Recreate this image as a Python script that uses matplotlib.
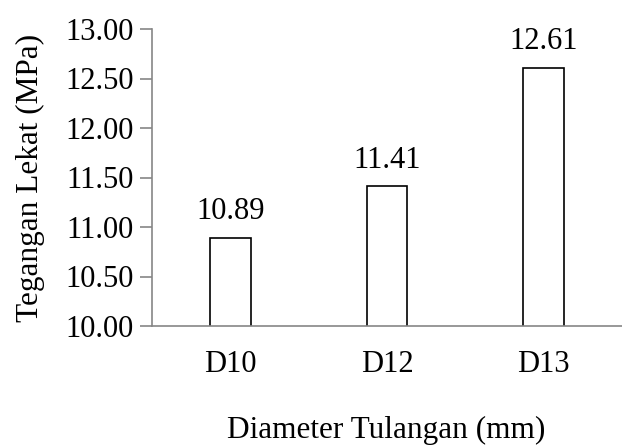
import matplotlib.pyplot as plt

categories = ["D10", "D12", "D13"]
values = [10.89, 11.41, 12.61]
yticks = [10.0, 10.5, 11.0, 11.5, 12.0, 12.5, 13.0]

plt.rcParams['font.family'] = ['Liberation Serif', 'DejaVu Serif']
plt.rcParams['font.size'] = 22

fig = plt.figure(figsize=(6.22, 4.48), dpi=100)
ax = fig.add_axes([152/622, 1 - 326/448, (622 - 152)/622, (326 - 29)/448])

x = range(len(categories))
ax.bar(x, values, width=0.26, bottom=0, color='white', edgecolor='black', linewidth=1.2)
for i, v in enumerate(values):
	ax.text(i, v + 0.12, "%.2f" % v, ha='center', va='bottom', fontsize=22)

ax.set_xlim(-0.5, len(categories) - 0.5)
ax.set_ylim(10.0, 13.0)
ax.set_yticks(yticks)
ax.set_yticklabels(["%.2f" % t for t in yticks])
ax.set_xticks(list(x))
ax.set_xticklabels(categories)

for s in ['top', 'right']:
	ax.spines[s].set_visible(False)
for s in ['left', 'bottom']:
	ax.spines[s].set_color('#868686')
	ax.spines[s].set_linewidth(1.2)
ax.tick_params(axis='y', direction='out', length=9, width=1.2, color='#868686', pad=4)
ax.tick_params(axis='x', length=0, pad=17)

fig.text(30/622, 1 - 178/448, "Tegangan Lekat (MPa)", ha='center', va='center', rotation=90, fontsize=22.5)
fig.text(386/622, 1 - 430/448, "Diameter Tulangan (mm)", ha='center', va='center', fontsize=22.5)

fig.savefig('out.png', dpi=100)
